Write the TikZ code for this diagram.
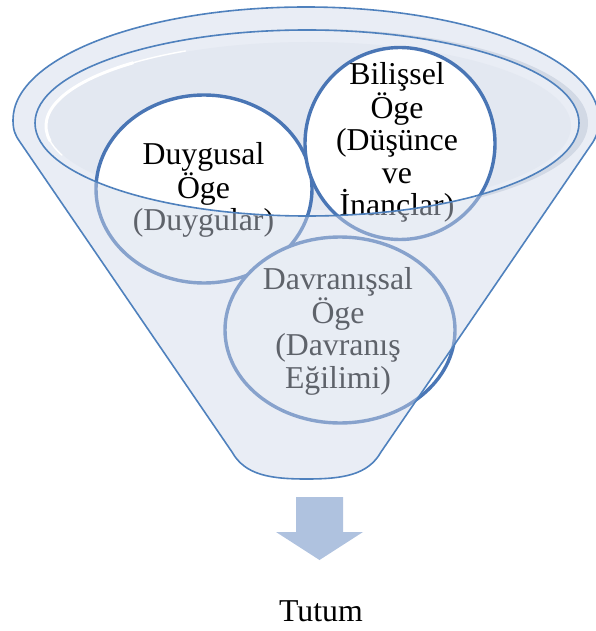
\documentclass[tikz,border=0pt]{standalone}
\usepackage{fontspec}
\setmainfont{Liberation Serif}
\usetikzlibrary{shapes.geometric}

\definecolor{rimblue}{RGB}{79,129,189}
\definecolor{bubbleblue}{RGB}{74,118,181}
\definecolor{glassblue}{RGB}{207,216,233}
\definecolor{bowl}{RGB}{227,232,241}
\definecolor{bowlshade}{RGB}{214,218,226}
\definecolor{arrowblue}{RGB}{175,194,223}

\begin{document}
\begin{tikzpicture}[x=1pt,y=-1pt,
  bubble/.style={ellipse, draw=bubbleblue, line width=3.4pt, fill=white, inner sep=0pt},
  bubbletext/.style={font=\fontsize{31.8}{32.5}\selectfont, align=center, inner sep=0pt, text=black},
  glass/.style={fill=glassblue, fill opacity=0.46},
  rim/.style={draw=rimblue, line width=1.6pt}]
\useasboundingbox (0,0) rectangle (595,631);

% back of the funnel: the bowl seen through the mouth, with its shadow and highlight
\fill[bowlshade] (312,123) ellipse [x radius=276pt, y radius=94pt];
\fill[bowl] (307,123) ellipse [x radius=272pt, y radius=93pt];
\fill[glassblue!45!white] (307,123) ellipse [x radius=272pt, y radius=93pt]
  (309,126) ellipse [x radius=262pt, y radius=84pt];
\begin{scope}
  \clip (307,123) ellipse [x radius=272pt, y radius=93pt];
  \fill[bowl] (309,126) ellipse [x radius=262pt, y radius=84pt];
\end{scope}
\draw[white, line width=1.4pt, line cap=round]
  (309,126) ++(200:263pt and 85pt) arc[start angle=200, end angle=118, x radius=263pt, y radius=85pt];
\draw[white, line width=3pt, line cap=round]
  (309,126) ++(190:263pt and 85pt) arc[start angle=190, end angle=132, x radius=263pt, y radius=85pt];

% the three components
\node[bubble, minimum width=216pt, minimum height=188pt] (affect) at (204,189) {};
\node[bubble, minimum width=190pt, minimum height=192pt] (cognition) at (400,143.5) {};
\node[bubble, minimum width=230pt, minimum height=186pt] (behaviour) at (340,330) {};
\node[bubbletext] (affectText) at (203.5,190) {Duygusal\\Öge\\(Duygular)};
\node[bubbletext] (cognitionText) at (397,142.6) {Bilişsel\\Öge\\(Düşünce\\ve\\İnançlar)};
\node[bubbletext] (behaviourText) at (338,331.4) {Davranışsal\\Öge\\(Davranış\\Eğilimi)};

% translucent front wall of the funnel
\fill[glass, even odd rule]
  (13,120) arc[start angle=180, end angle=0, x radius=293pt, y radius=113pt]
  .. controls (599,130) and (597,135) .. (593,142) -- (381,452)
  .. controls (368,475) and (343,479) .. (306.5,479)
  .. controls (270,479) and (245,475) .. (232,452) -- (20,142)
  .. controls (15,135) and (13,130) .. (13,120) -- cycle
  (307,123) ellipse [x radius=272pt, y radius=93pt];

% outlines of the funnel
\draw[rim] (307,123) ellipse [x radius=272pt, y radius=93pt];
\draw[rim, line join=round]
  (13,120) arc[start angle=180, end angle=0, x radius=293pt, y radius=113pt]
  .. controls (599,130) and (597,135) .. (593,142) -- (381,452)
  .. controls (368,475) and (343,479) .. (306.5,479)
  .. controls (270,479) and (245,475) .. (232,452) -- (20,142)
  .. controls (15,135) and (13,130) .. (13,120) -- cycle;

% result arrow and label
\fill[arrowblue] (296,497) -- (343,497) -- (343,532) -- (363,532) -- (319.5,560)
  -- (276,532) -- (296,532) -- cycle;
\node[bubbletext, anchor=base] (attitude) at (321,621.5) {Tutum};
\end{tikzpicture}
\end{document}
